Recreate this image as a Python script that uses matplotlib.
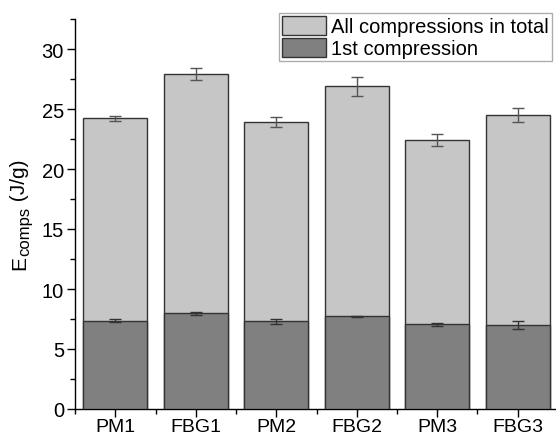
import numpy as np
import matplotlib
matplotlib.use('Agg')
import matplotlib.pyplot as plt
from matplotlib.ticker import MultipleLocator
from matplotlib.patches import Patch

plt.rcParams['font.family'] = ['Liberation Sans', 'DejaVu Sans']

samples = ['PM1', 'FBG1', 'PM2', 'FBG2', 'PM3', 'FBG3']
total = [24.22, 27.95, 23.9, 26.9, 22.45, 24.5]
total_err = [0.2, 0.5, 0.4, 0.8, 0.5, 0.6]
first = [7.36, 7.97, 7.3, 7.72, 7.05, 7.02]
first_err = [0.1, 0.12, 0.2, 0.02, 0.15, 0.35]

light = '#c6c6c6'
dark = '#808080'
edge = '#333333'

W, H = 556, 439
fig = plt.figure(figsize=(W / 100, H / 100), dpi=100)
ax = fig.add_axes([75 / W, 29 / H, 481 / W, 390 / H])

x = np.arange(len(samples))
ax.bar(x, total, width=0.8, color=light, edgecolor=edge, linewidth=1.0, zorder=2)
ax.errorbar(x, total, yerr=total_err, fmt='none', ecolor='#555555',
            elinewidth=1.0, capsize=4, capthick=1.0, zorder=3)
ax.bar(x, first, width=0.8, color=dark, edgecolor=edge, linewidth=1.0, zorder=4)
ax.errorbar(x, first, yerr=first_err, fmt='none', ecolor='#333333',
            elinewidth=1.0, capsize=4, capthick=1.0, zorder=5)

ax.set_xlim(-0.5, (W - 75) / 80.5 - 0.5)
ax.set_ylim(0, 32.5)
ax.set_xticks(x)
ax.set_xticklabels(samples)
ax.xaxis.set_minor_locator(MultipleLocator(1, offset=0.5))
ax.yaxis.set_major_locator(MultipleLocator(5))
ax.yaxis.set_minor_locator(MultipleLocator(2.5))
ax.tick_params(axis='both', which='major', direction='out', length=6, width=1,
               labelsize=14.5, pad=2)
ax.tick_params(axis='both', which='minor', direction='out', length=3.5, width=1)
ax.tick_params(axis='x', which='major', labelsize=14, pad=0.5)

for s in ['top', 'right']:
    ax.spines[s].set_visible(False)
for s in ['left', 'bottom']:
    ax.spines[s].set_linewidth(1.0)

# y label built from pieces so the subscript can be larger than mathtext allows
renderer = fig.canvas.get_renderer()
ypix = 270
for txt, size, dx in [('E', 15, 0), ('comps', 12, 4), (' (J/g)', 15, 0)]:
    t = fig.text((25 + dx) / W, (H - ypix) / H, txt, fontsize=size, rotation=90,
                 rotation_mode='anchor', ha='left', va='baseline')
    ypix -= t.get_window_extent(renderer).height

handles = [Patch(facecolor=light, edgecolor=edge, label='All compressions in total'),
           Patch(facecolor=dark, edgecolor=edge, label='1st compression')]
leg = ax.legend(handles=handles, loc='upper right',
                bbox_to_anchor=((552 - 75) / 481, (410 - 14) / 390),
                fontsize=14.5, frameon=True, fancybox=False, edgecolor='#999999',
                handlelength=2.2, handleheight=1.05, handletextpad=0.25,
                labelspacing=0.1, borderpad=0.15, borderaxespad=0)
leg.get_frame().set_linewidth(1.0)

plt.savefig('out.png', dpi=100, facecolor='white')
plt.close()
